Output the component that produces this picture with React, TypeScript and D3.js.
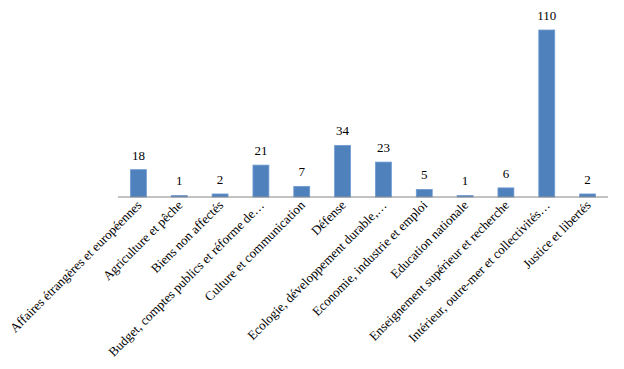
import React from "react";
import * as d3 from "d3";

const categories = [
  "Affaires étrangères et européennes",
  "Agriculture et pêche",
  "Biens non affectés",
  "Budget, comptes publics et réforme de…",
  "Culture et communication",
  "Défense",
  "Ecologie, développement durable,…",
  "Economie, industrie et emploi",
  "Education nationale",
  "Enseignement supérieur et recherche",
  "Intérieur, outre-mer et collectivités…",
  "Justice et libertés",
];
const values = [18, 1, 2, 21, 7, 34, 23, 5, 1, 6, 110, 2];

const W = 624;
const H = 369;
const margin = { left: 118, right: 16, top: 30, bottom: 172 };

export default function App() {
  const x = d3
    .scaleBand<string>()
    .domain(categories)
    .range([margin.left, W - margin.right])
    .paddingInner(0.61)
    .paddingOuter(0.305);
  const y = d3
    .scaleLinear()
    .domain([0, 110])
    .range([H - margin.bottom, margin.top]);
  const y0 = y(0);
  const font = "Liberation Serif";

  return (
    <svg
      width={W}
      height={H}
      style={{ position: "absolute", left: 0, top: 0, background: "#fff" }}
    >
      {categories.map((c, i) => {
        const bx = x(c)!;
        const cx = bx + x.bandwidth() / 2;
        return (
          <g key={c}>
            <rect
              x={bx}
              y={y(values[i])}
              width={x.bandwidth()}
              height={y0 - y(values[i])}
              fill="#4f81bd"
              stroke="#6f9bd3"
              strokeWidth={0.8}
            />
            <text
              x={cx}
              y={y(values[i]) - 10}
              textAnchor="middle"
              style={{ fontFamily: font, fontSize: 13 }}
              fill="#000"
            >
              {values[i]}
            </text>
            <text
              transform={`translate(${cx + 4},${y0 + 9}) rotate(-45)`}
              textAnchor="end"
              style={{ fontFamily: font, fontSize: 13 }}
              fill="#000"
            >
              {c}
            </text>
          </g>
        );
      })}
      <line
        x1={margin.left}
        x2={W - margin.right}
        y1={y0}
        y2={y0}
        stroke="#868686"
        strokeWidth={1}
      />
    </svg>
  );
}
